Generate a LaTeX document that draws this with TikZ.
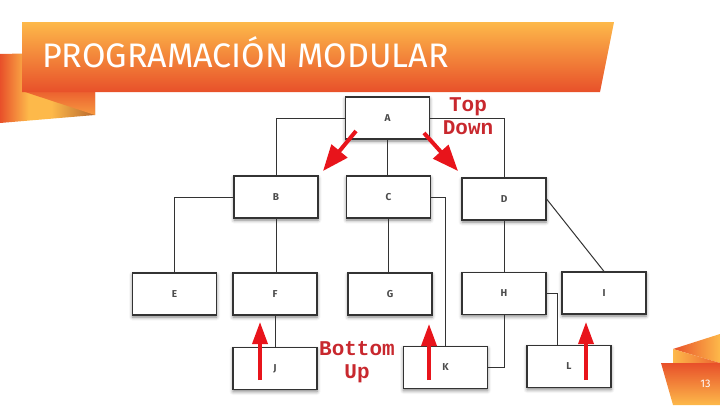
\documentclass[tikz,border=0pt]{standalone}
\usepackage{fontspec}
\setsansfont{Fira Sans}
\newfontfamily\typefont{Liberation Mono}
\usetikzlibrary{arrows.meta,positioning,shadows.blur,calc}
\definecolor{bannerlight}{HTML}{FDB94A}
\definecolor{bannerdark}{HTML}{E8502A}
\definecolor{bannerdeep}{HTML}{B8682E}
\definecolor{arrowred}{HTML}{E8141B}
\definecolor{notered}{HTML}{C8282E}
\definecolor{boxline}{HTML}{333333}
\pgfdeclarehorizontalshading{ribbonback}{100bp}{color(0bp)=(bannerdark);
  color(25bp)=(bannerdark); color(40bp)=(bannerlight); color(52bp)=(bannerlight);
  color(75bp)=(bannerdeep); color(100bp)=(bannerdeep)}
\tikzset{
  module/.style={
    rectangle, draw=boxline, line width=1.2pt, fill=white,
    minimum width=84pt, minimum height=42pt, inner sep=0pt,
    font=\sffamily\bfseries\fontsize{10}{10}\selectfont, text=black!70,
    blur shadow={shadow xshift=0pt, shadow yshift=-2pt,
                 shadow blur radius=3.5pt, shadow opacity=50}
  },
  link/.style={draw=boxline, line width=1pt},
  push/.style={draw=arrowred, line width=3.5pt,
               -{Triangle[length=22pt,width=15pt]}},
  pushdiag/.style={push, line width=4pt, -{Triangle[length=26pt,width=20pt]}},
  note/.style={font=\typefont\bfseries\fontsize{21}{23}\selectfont,
               text=notered, align=center, inner sep=0pt},
  title/.style={font=\sffamily\fontsize{34}{34}\selectfont, text=white,
                inner sep=0pt, anchor=base west}
}

\begin{document}
\begin{tikzpicture}[x=1pt, y=-1pt]
  \useasboundingbox (0,0) rectangle (720,405);

  % Title ribbon
  \shade[shading=ribbonback]
    (0,54) -- (95,52) -- (95,115) -- (0,123) -- cycle;
  \shade[top color=bannerdark!85!bannerlight, bottom color=bannerlight!70!bannerdark]
    (22,91) -- (95,91) -- (95,115) -- cycle;
  \shade[top color=bannerlight, bottom color=bannerdark]
    (22,22) -- (614,22) -- (600,92) -- (22,92) -- cycle;
  \node[title] (heading) at (42,67.5) {PROGRAMACIÓN MODULAR};

  % Page mark
  \shade[left color=bannerdark, right color=bannerlight]
    (673,349) -- (720,334) -- (720,363) -- cycle;
  \shade[left color=bannerlight, right color=bannerdark!85!bannerlight]
    (673,349) -- (720,363) -- (673,363) -- cycle;
  \shade[top color=bannerdark, bottom color=bannerlight]
    (661,363) -- (720,363) -- (720,405) -- (673,405) -- cycle;
  \node[font=\sffamily\fontsize{11}{11}\selectfont, text=white] (pageno) at (705.5,384) {13};

  % Modules
  \node[module] (A) at (387.5,118) {A};
  \node[module] (B) at (276,197) {B};
  \node[module] (C) at (388.5,197) {C};
  \node[module] (D) at (504,199) {D};
  \node[module] (E) at (174.5,294) {E};
  \node[module] (F) at (275,294) {F};
  \node[module] (G) at (390,294) {G};
  \node[module] (H) at (504,293.5) {H};
  \node[module] (I) at (604,293) {I};
  \node[module] (J) at (275,368.5) {J};
  \node[module] (K) at (445.5,367.5) {K};
  \node[module] (L) at (569,366.5) {L};

  % Links between modules
  \draw[link] (A.west) -| (B.north);
  \draw[link] (A.south) -- (A.south|-C.north);
  \draw[link] (A.east) -| (D.north);
  \draw[link] (B.west) -| (E.north);
  \draw[link] (B.south) -- (B.south|-F.north);
  \draw[link] (C.south) -- (C.south|-G.north);
  \draw[link] (C.east) -| (K.north);
  \draw[link] (D.south) -- (H.north);
  \draw[link] (D.east) -- (I.north);
  \draw[link] (H.south) |- (K.east);
  \draw[link] (H.east) -| ([xshift=-12pt]L.north);
  \draw[link] (F.south) -- (F.south|-J.north);

  % Direction arrows
  \coordinate (tdleft) at (356,131);
  \coordinate (tdlefttip) at (323,171);
  \coordinate (tdright) at (424,133);
  \coordinate (tdrighttip) at (458,171);
  \coordinate (buJ) at (260,380);
  \coordinate (buJtip) at (260,322);
  \coordinate (buK) at (429,380);
  \coordinate (buKtip) at (429,324);
  \coordinate (buL) at (586,380);
  \coordinate (buLtip) at (586,322);
  \draw[pushdiag] (tdleft) -- (tdlefttip);
  \draw[pushdiag] (tdright) -- (tdrighttip);
  \draw[push] (buJ) -- (buJtip);
  \draw[push] (buK) -- (buKtip);
  \draw[push] (buL) -- (buLtip);

  \node[note] (topdown) at (468,116.5) {Top\\Down};
  \node[note] (bottomup) at (357,362.5) {Bottom\\Up};

\end{tikzpicture}
\end{document}
